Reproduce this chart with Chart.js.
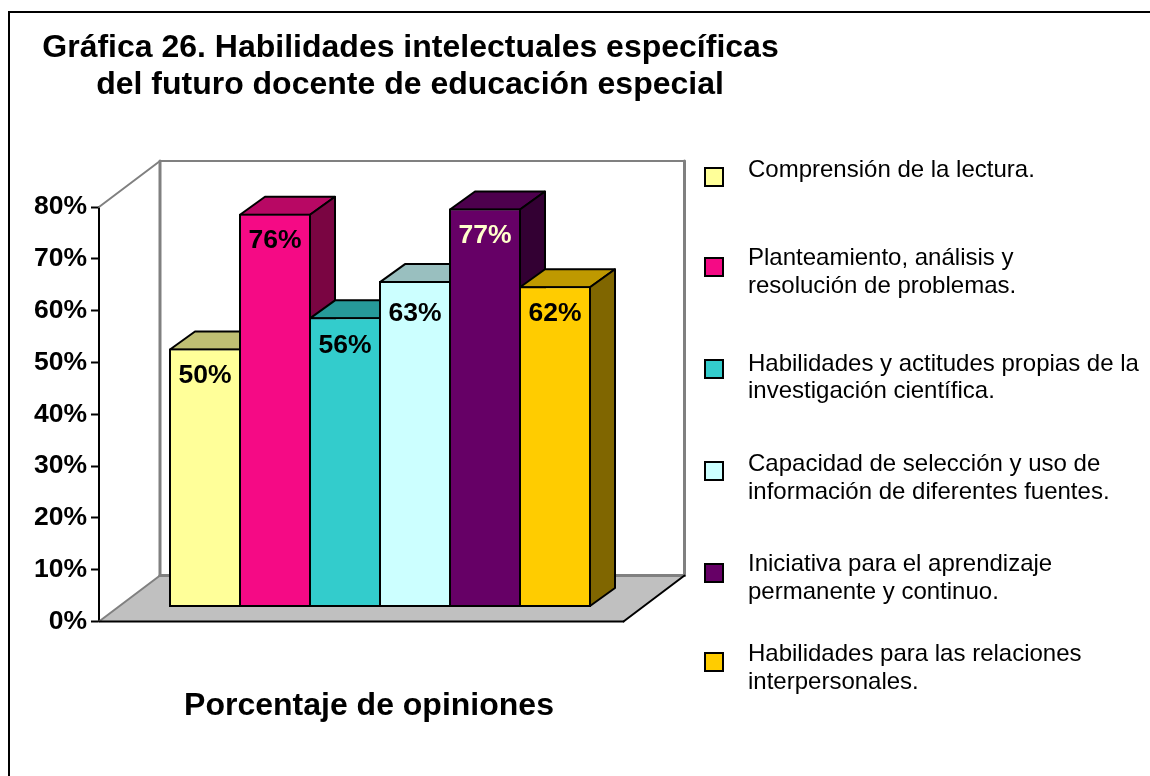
<!DOCTYPE html>
<html>
<head>
<meta charset="utf-8">
<title>Gráfica 26</title>
<script src="https://cdn.jsdelivr.net/npm/chart.js@4"></script>
<style>
  html, body { margin: 0; padding: 0; background: #fff; overflow: hidden; }
  canvas { display: block; }
</style>
</head>
<body>
<canvas id="myChart" width="1150" height="776"></canvas>
<script>
const titleLines = ["Gráfica 26. Habilidades intelectuales específicas", "del futuro docente de educación especial"];
const axisTitle = "Porcentaje de opiniones";
const categories = [
  ["Comprensión de la lectura."],
  ["Planteamiento, análisis y", "resolución de problemas."],
  ["Habilidades y actitudes propias de la", "investigación científica."],
  ["Capacidad de selección y uso de", "información de diferentes fuentes."],
  ["Iniciativa para el aprendizaje", "permanente y continuo."],
  ["Habilidades para las relaciones", "interpersonales."]
];
const values = [50, 76, 56, 63, 77, 62];

const frontColors = ['#FFFF99', '#F50A85', '#33CCCC', '#CCFFFF', '#660066', '#FFCC00'];
const topColors = ['#BFBF73', '#B80864', '#269999', '#99BFBF', '#4D004D', '#BF9900'];
const sideColors = ['#80804D', '#7A0542', '#1A6666', '#668080', '#330033', '#806600'];
const labelColors = ['#000', '#000', '#000', '#000', '#FFFFCC', '#000'];

// how far each value label sits below the top of its bar
const labelDrop = [27.5, 26.5, 28, 33, 27.5, 27.5];

// legend rows: baseline of the first text line, centre of the box
const legendTextY = [177, 265, 370.5, 471, 571, 661];
const legendBoxY = [177, 267, 369, 471, 573, 662];

const FONT = '"Liberation Sans", Arial, sans-serif';
const BAR_SHIFT_X = 71, BAR_SHIFT_Y = 14;   // bars stand in from the front of the floor
const BAR_DX = 25, BAR_DY = 18;             // bar depth
const WALL_DX = 61, WALL_DY = 46;           // floor depth

function poly(ctx, pts, fill, stroke, lw) {
  ctx.beginPath();
  ctx.moveTo(pts[0][0], pts[0][1]);
  for (let i = 1; i < pts.length; i++) ctx.lineTo(pts[i][0], pts[i][1]);
  ctx.closePath();
  if (fill) { ctx.fillStyle = fill; ctx.fill(); }
  if (stroke) { ctx.strokeStyle = stroke; ctx.lineWidth = lw; ctx.stroke(); }
}

function line(ctx, x1, y1, x2, y2, color, lw) {
  ctx.beginPath();
  ctx.moveTo(x1, y1);
  ctx.lineTo(x2, y2);
  ctx.strokeStyle = color;
  ctx.lineWidth = lw;
  ctx.stroke();
}

const box3d = {
  id: 'box3d',
  beforeDatasetsDraw(chart) {
    const ctx = chart.ctx;
    const a = chart.chartArea;
    const y = chart.scales.y;
    const x0 = a.left, y0 = y.getPixelForValue(0), yTop = y.getPixelForValue(80);
    const floorRight = a.right + 104.5;

    ctx.save();
    // floor
    poly(ctx, [[x0, y0], [floorRight, y0], [floorRight + WALL_DX, y0 - WALL_DY], [x0 + WALL_DX, y0 - WALL_DY]], '#C0C0C0');

    // back wall and its edges
    const gray = '#808080';
    ctx.lineCap = 'round';
    line(ctx, x0, yTop, x0 + WALL_DX, yTop - WALL_DY, gray, 2);
    line(ctx, x0 + WALL_DX, yTop - WALL_DY, floorRight + WALL_DX, yTop - WALL_DY, gray, 2);
    line(ctx, x0 + WALL_DX, yTop - WALL_DY, x0 + WALL_DX, y0 - WALL_DY, gray, 3);
    line(ctx, floorRight + WALL_DX, yTop - WALL_DY, floorRight + WALL_DX, y0 - WALL_DY, gray, 3);
    line(ctx, x0 + WALL_DX, y0 - WALL_DY, floorRight + WALL_DX, y0 - WALL_DY, gray, 3);
    line(ctx, x0, y0, x0 + WALL_DX, y0 - WALL_DY, gray, 2);
    line(ctx, floorRight, y0, floorRight + WALL_DX, y0 - WALL_DY, '#000', 2);
    line(ctx, x0, y0, floorRight, y0, '#000', 2);

    // top and side faces go first, the library paints the fronts over them
    ctx.translate(BAR_SHIFT_X, -BAR_SHIFT_Y);
    ctx.lineJoin = 'round';
    chart.getDatasetMeta(0).data.forEach((bar, i) => {
      const l = bar.x - 35, r = bar.x + 35, t = bar.y + 1, b = bar.base - 1;
      poly(ctx, [[l, t], [r, t], [r + BAR_DX, t - BAR_DY], [l + BAR_DX, t - BAR_DY]], topColors[i], '#000', 2);
      poly(ctx, [[r, t], [r + BAR_DX, t - BAR_DY], [r + BAR_DX, b - BAR_DY], [r, b]], sideColors[i], '#000', 2);
    });
    ctx.restore();

    // shift for the native bars, undone in afterDatasetsDraw
    ctx.save();
    ctx.translate(BAR_SHIFT_X, -BAR_SHIFT_Y);
  },
  afterDatasetsDraw(chart) {
    const ctx = chart.ctx;
    ctx.restore();

    ctx.save();
    ctx.font = 'bold 26.5px ' + FONT;
    ctx.textAlign = 'center';
    ctx.textBaseline = 'middle';
    chart.getDatasetMeta(0).data.forEach((bar, i) => {
      ctx.fillStyle = labelColors[i];
      ctx.fillText(values[i] + '%', bar.x + BAR_SHIFT_X, bar.y - BAR_SHIFT_Y + labelDrop[i]);
    });
    ctx.restore();
  },
  afterDraw(chart) {
    const ctx = chart.ctx;
    ctx.save();

    // outer frame, open on the right and at the bottom
    ctx.fillStyle = '#000';
    ctx.fillRect(8, 11, 1142, 2);
    ctx.fillRect(8, 11, 2, 765);

    // titles
    ctx.textAlign = 'center';
    ctx.textBaseline = 'alphabetic';
    ctx.font = 'bold 32px ' + FONT;
    ctx.fillText(titleLines[0], 410.5, 57);
    ctx.fillText(titleLines[1], 410, 94);
    ctx.fillText(axisTitle, 369, 715);

    // legend
    ctx.textAlign = 'left';
    ctx.font = '24px ' + FONT;
    categories.forEach((lines, i) => {
      ctx.fillStyle = frontColors[i];
      ctx.strokeStyle = '#000';
      ctx.lineWidth = 2;
      ctx.fillRect(705, legendBoxY[i] - 9, 18, 18);
      ctx.strokeRect(705, legendBoxY[i] - 9, 18, 18);
      ctx.fillStyle = '#000';
      lines.forEach((t, j) => ctx.fillText(t, 748, legendTextY[i] + j * 27.5));
    });
    ctx.restore();
  }
};

new Chart(document.getElementById('myChart').getContext('2d'), {
  type: 'bar',
  data: {
    labels: categories.map(c => c.join(' ')),
    datasets: [{
      label: axisTitle,
      data: values,
      backgroundColor: frontColors,
      borderColor: '#000',
      borderWidth: 2,
      borderSkipped: false,
      barPercentage: 72 / 70,
      categoryPercentage: 1,
      clip: false
    }]
  },
  options: {
    responsive: false,
    animation: false,
    layout: { padding: { left: 0, top: 207, right: 631, bottom: 154.5 } },
    plugins: {
      legend: { display: false },
      title: { display: false },
      tooltip: { enabled: false }
    },
    scales: {
      x: { display: false },
      y: {
        min: 0,
        max: 80,
        afterFit: (scale) => { scale.width = 99; },
        border: { display: true, color: '#000', width: 2 },
        grid: { drawOnChartArea: false, drawTicks: true, tickLength: 8, tickColor: '#000', tickWidth: 2 },
        ticks: {
          stepSize: 10,
          padding: 4,
          color: '#000',
          font: { family: FONT, size: 26.5, weight: 'bold' },
          callback: (v) => v + '%'
        }
      }
    }
  },
  plugins: [box3d]
});
</script>
</body>
</html>
